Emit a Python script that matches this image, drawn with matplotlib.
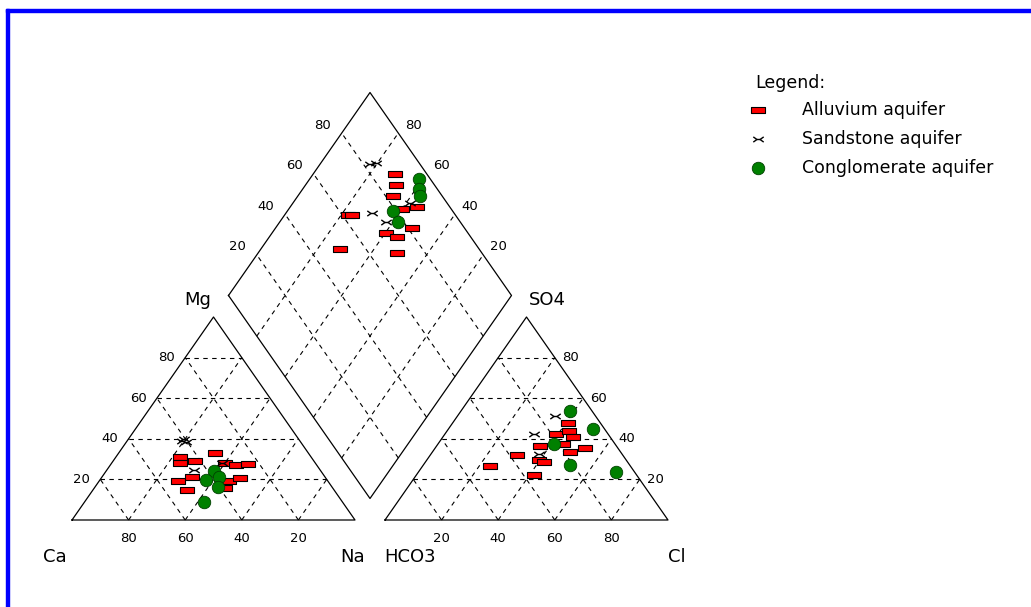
import numpy as np
import matplotlib
matplotlib.use("Agg")
import matplotlib.pyplot as plt
from matplotlib.path import Path
from matplotlib.patches import Rectangle

# ---- data (% of meq) ----
# cation triangle: Mg, Na+K  (Ca is the rest)
alluvium_mg = [31, 28, 29, 33, 28, 27, 27.5, 21, 19, 15, 19, 20.5, 16]
alluvium_na = [22.5, 24, 29, 34, 40, 44.5, 48.5, 32, 28, 33, 46, 49, 46]
sandstone_mg = [40, 38.5, 39, 24.5, 28]
sandstone_na = [19.5, 21, 19.5, 31, 39]
conglom_mg = [24, 19.5, 21, 16.5, 9]
conglom_na = [38, 37.5, 41.5, 43.5, 42]

# anion triangle: SO4, Cl  (HCO3 is the rest)
alluvium_so4 = [26.5, 32, 22, 36.5, 29.5, 28.5, 42.5, 37.5, 48, 44, 41, 33.5, 35.5]
alluvium_cl = [24, 30.5, 41.5, 36.5, 39.5, 42, 39, 44, 40.5, 43, 46, 48.5, 53]
sandstone_so4 = [51, 42.5, 32.5]
sandstone_cl = [34.5, 31.5, 38]
conglom_so4 = [53.5, 45, 37.5, 27, 23.5]
conglom_cl = [38.5, 51, 41, 52, 70]

# diamond: Ca+Mg, SO4+Cl
alluvium_camg = [71, 68, 66.5, 60, 55, 77.5, 76, 51.5, 60, 55, 72, 51]
alluvium_so4cl = [89, 86.5, 82.5, 82.5, 88.5, 62, 63.5, 81.5, 71, 74, 51, 70]
sandstone_camg = [80.5, 82.5, 69.5, 62.5, 58.5]
sandstone_so4cl = [85, 82.5, 71, 73.5, 87]
conglom_camg = [61.5, 59, 57, 62.5, 58]
conglom_so4cl = [96, 93.5, 92, 79, 78]

ticks = [20, 40, 60, 80]
labels = ["Alluvium aquifer", "Sandstone aquifer", "Conglomerate aquifer"]

G = 30 / 283.0          # gap between the two triangles
H = np.sqrt(3) / 2


def cation_xy(mg, na):
    mg = np.asarray(mg, float) / 100
    na = np.asarray(na, float) / 100
    return na + mg / 2, mg * H


def anion_xy(so4, cl):
    so4 = np.asarray(so4, float) / 100
    cl = np.asarray(cl, float) / 100
    return 1 + G + cl + so4 / 2, so4 * H


def diamond_xy(camg, so4cl):
    n = 1 - np.asarray(camg, float) / 100
    s = np.asarray(so4cl, float) / 100
    t = 1 + G + s - n
    return n + t / 2, t * H


fig = plt.figure(figsize=(10.31, 6.07), dpi=100)
ax = fig.add_axes([0, 0, 1, 1])
ax.set_xlim(-72 / 283.0, (1031 - 72) / 283.0)
ax.set_ylim((520 - 607) / 234.4, 520 / 234.4)
ax.axis("off")

solid = dict(color="black", lw=0.9)
dash = dict(color="black", lw=0.8, ls=(0, (4, 4)))

# outlines
for f in (cation_xy, anion_xy):
    x, y = f([0, 0, 100, 0], [0, 100, 0, 0])
    ax.plot(x, y, **solid)
x, y = diamond_xy([100, 0, 0, 100, 100], [0, 0, 100, 100, 0])
ax.plot(x, y, **solid)

# grids
for k in ticks:
    for f in (cation_xy, anion_xy):
        for a, b in (([k, k], [0, 100 - k]),
                     ([0, 100 - k], [k, k]),
                     ([0, 100 - k], [100 - k, 0])):
            x, y = f(a, b)
            ax.plot(x, y, **dash)
    x, y = diamond_xy([k, k], [0, 100])
    ax.plot(x, y, **dash)
    x, y = diamond_xy([0, 100], [k, k])
    ax.plot(x, y, **dash)

# tick labels
tk = dict(fontsize=9.5, textcoords="offset pixels", va="center")
for k in ticks:
    ax.annotate(str(k), cation_xy(k, 0), xytext=(-10, 0), ha="right", **tk)
    ax.annotate(str(k), (1 - k / 100, 0), xytext=(0, -19), ha="center", **tk)
    ax.annotate(str(k), (1 + G + k / 100, 0), xytext=(0, -19), ha="center", **tk)
    ax.annotate(str(k), anion_xy(k, 100 - k), xytext=(7, 0), ha="left", **tk)
    ax.annotate(str(k), diamond_xy(100, k), xytext=(-19, 8), ha="center", **tk)
    ax.annotate(str(k), diamond_xy(k, 100), xytext=(15, 8), ha="center", **tk)

# corner names
cn = dict(fontsize=13, textcoords="offset pixels", ha="center", va="center")
ax.annotate("Mg", (0.5, H), xytext=(-16, 17), **cn)
ax.annotate("SO4", (1.5 + G, H), xytext=(21, 17), **cn)
ax.annotate("Ca", (0, 0), xytext=(-17, -37), **cn)
ax.annotate("Na", (1, 0), xytext=(-2, -37), **cn)
ax.annotate("HCO3", (1 + G, 0), xytext=(25, -37), **cn)
ax.annotate("Cl", (2 + G, 0), xytext=(9, -37), **cn)

# markers
rect = Path([(-1, -0.5), (1, -0.5), (1, 0.5), (-1, 0.5), (-1, -0.5)],
            [Path.MOVETO, Path.LINETO, Path.LINETO, Path.LINETO, Path.CLOSEPOLY])
bow = Path([(-1, 0.5), (-0.3, 0), (-1, -0.5), (-0.3, 0), (0.3, 0),
            (1, 0.5), (0.3, 0), (1, -0.5)],
           [Path.MOVETO, Path.LINETO, Path.LINETO, Path.MOVETO, Path.LINETO,
            Path.MOVETO, Path.LINETO, Path.LINETO])
styles = [
    dict(marker=rect, ms=9.4, mfc="#ff0000", mec="black", mew=0.8, ls="none"),
    dict(marker=bow, ms=7.5, mfc="none", mec="black", mew=1.0, ls="none"),
    dict(marker="o", ms=9, mfc="#008000", mec="#004000", mew=0.6, ls="none"),
]
groups = [
    (alluvium_mg, alluvium_na, alluvium_so4, alluvium_cl, alluvium_camg, alluvium_so4cl),
    (sandstone_mg, sandstone_na, sandstone_so4, sandstone_cl, sandstone_camg, sandstone_so4cl),
    (conglom_mg, conglom_na, conglom_so4, conglom_cl, conglom_camg, conglom_so4cl),
]
for (mg, na, so4, cl, camg, so4cl), st in zip(groups, styles):
    ax.plot(*cation_xy(mg, na), **st)
    ax.plot(*anion_xy(so4, cl), **st)
    ax.plot(*diamond_xy(camg, so4cl), **st)

# legend
W, Hp = 1031.0, 607.0
fig.text(755 / W, 1 - 83 / Hp, "Legend:", fontsize=12.5, va="center", ha="left")
for i, (lab, st) in enumerate(zip(labels, styles)):
    yy = 1 - (110 + 29 * i) / Hp
    ax.plot([758 / W], [yy], transform=fig.transFigure, clip_on=False, **st)
    fig.text(802 / W, yy, lab, fontsize=12.5, va="center", ha="left")

# blue frame (left and top)
fig.add_artist(Rectangle((6 / W, 0), 3 / W, 1 - 9 / Hp, color="#0000ff",
                         transform=fig.transFigure))
fig.add_artist(Rectangle((6 / W, 1 - 12 / Hp), 1 - 6 / W, 3 / Hp, color="#0000ff",
                         transform=fig.transFigure))

fig.savefig("out.png", dpi=100)
